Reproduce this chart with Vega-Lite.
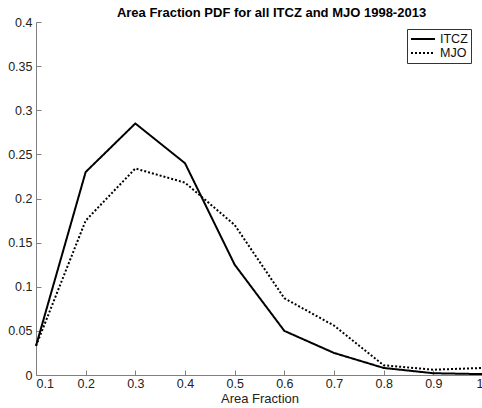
{
  "$schema": "https://vega.github.io/schema/vega-lite/v6.json",
  "autosize": "none",
  "width": 447,
  "height": 353,
  "padding": {"left": 36, "top": 22, "right": 0, "bottom": 33},
  "background": "white",
  "title": {"text": "Area Fraction PDF for all ITCZ and MJO 1998-2013", "font": "Liberation Sans", "fontSize": 13, "fontWeight": "bold", "color": "black", "anchor": "middle", "offset": 4, "dy": 8, "dx": 12},
  "config": {"view": {"stroke": null}},
  "data": {"values": [
    {"af": 0.1, "pdf": 0.033, "s": "ITCZ"},
    {"af": 0.2, "pdf": 0.23, "s": "ITCZ"},
    {"af": 0.3, "pdf": 0.285, "s": "ITCZ"},
    {"af": 0.4, "pdf": 0.24, "s": "ITCZ"},
    {"af": 0.5, "pdf": 0.125, "s": "ITCZ"},
    {"af": 0.6, "pdf": 0.05, "s": "ITCZ"},
    {"af": 0.7, "pdf": 0.025, "s": "ITCZ"},
    {"af": 0.8, "pdf": 0.008, "s": "ITCZ"},
    {"af": 0.9, "pdf": 0.002, "s": "ITCZ"},
    {"af": 1.0, "pdf": 0.001, "s": "ITCZ"},
    {"af": 0.1, "pdf": 0.033, "s": "MJO"},
    {"af": 0.2, "pdf": 0.175, "s": "MJO"},
    {"af": 0.3, "pdf": 0.234, "s": "MJO"},
    {"af": 0.4, "pdf": 0.218, "s": "MJO"},
    {"af": 0.5, "pdf": 0.17, "s": "MJO"},
    {"af": 0.6, "pdf": 0.087, "s": "MJO"},
    {"af": 0.7, "pdf": 0.056, "s": "MJO"},
    {"af": 0.8, "pdf": 0.011, "s": "MJO"},
    {"af": 0.9, "pdf": 0.006, "s": "MJO"},
    {"af": 1.0, "pdf": 0.008, "s": "MJO"}
  ]},
  "mark": {"type": "line", "strokeWidth": 2, "color": "black"},
  "encoding": {
    "x": {"field": "af", "type": "quantitative", "scale": {"domain": [0.1, 1.0], "nice": false, "zero": false},
      "axis": {"values": [0.1,0.2,0.3,0.4,0.5,0.6,0.7,0.8,0.9,1.0], "format": "~g", "title": "Area Fraction", "grid": false, "tickSize": -5, "labelPadding": 7, "domainColor": "#808080", "tickColor": "#808080", "labelColor": "#222", "labelFont": "Liberation Sans", "labelFontSize": 12.5, "titleFont": "Liberation Sans", "titleFontSize": 13, "titleFontWeight": "normal", "titleColor": "#222", "titlePadding": 3}},
    "y": {"field": "pdf", "type": "quantitative", "scale": {"domain": [0, 0.4], "nice": false},
      "axis": {"values": [0,0.05,0.1,0.15,0.2,0.25,0.3,0.35,0.4], "format": "~g", "title": null, "grid": false, "tickSize": -5, "labelPadding": 9, "domainColor": "#808080", "tickColor": "#808080", "labelColor": "#222", "labelFont": "Liberation Sans", "labelFontSize": 12.5}},
    "strokeDash": {"field": "s", "type": "nominal", "scale": {"domain": ["ITCZ", "MJO"], "range": [[1, 0], [2, 2]]},
      "legend": {"title": null, "orient": "none", "legendX": 371, "legendY": 7, "symbolType": "M-1,0H3", "symbolStrokeColor": "black", "symbolStrokeWidth": 2, "symbolSize": 144, "labelFont": "Liberation Sans", "labelFontSize": 12.5, "labelColor": "#111", "strokeColor": "#333", "fillColor": "white", "padding": 3, "rowPadding": 0, "labelOffset": 16, "offset": 0}}
  }
}
